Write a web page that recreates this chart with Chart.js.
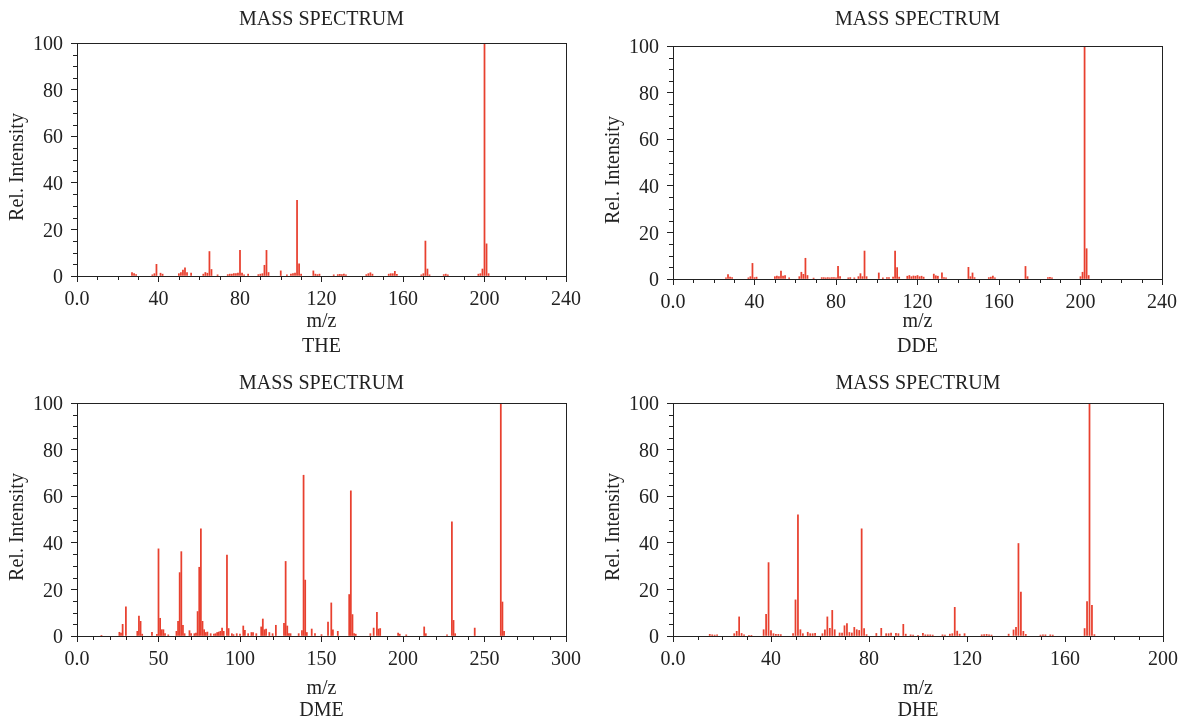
<!DOCTYPE html>
<html>
<head>
<meta charset="utf-8">
<script src="https://cdn.jsdelivr.net/npm/chart.js@4.4.1/dist/chart.umd.min.js"></script>
<style>
  html, body { margin: 0; padding: 0; background: #fff; overflow: hidden; }
  canvas { position: absolute; }
</style>
</head>
<body>
<canvas id="c1" width="594" height="361" style="left:0px;top:0px"></canvas>
<canvas id="c2" width="591" height="361" style="left:596px;top:0px"></canvas>
<canvas id="c3" width="594" height="362" style="left:0px;top:361px"></canvas>
<canvas id="c4" width="591" height="362" style="left:596px;top:361px"></canvas>
<script>
// spectrum THE
const theMz  = [27, 28, 29, 37, 38, 39, 41, 42, 50, 51, 52, 53, 54, 56, 62, 63, 64, 65, 66, 69, 74, 75, 76, 77, 78, 79, 80, 81, 82, 84, 89, 90, 91, 92, 93, 94, 100, 103, 105, 106, 107, 108, 109, 110, 116, 117, 118, 119, 126, 128, 129, 130, 131, 132, 142, 143, 144, 145, 153, 154, 155, 156, 157, 169, 170, 171, 172, 173, 180, 181, 182, 197, 198, 199, 200, 201, 202];
const theInt = [1.5, 1.0, 0.6, 0.5, 1.0, 5.0, 1.2, 0.8, 1.0, 1.5, 2.5, 3.5, 1.5, 1.2, 0.8, 1.5, 1.2, 10.5, 2.8, 0.5, 0.6, 0.8, 0.8, 1.0, 1.0, 1.2, 11.0, 1.2, 0.5, 0.8, 0.6, 0.8, 1.0, 4.6, 11.0, 1.5, 2.2, 0.5, 0.8, 1.0, 1.2, 32.5, 5.2, 0.8, 2.2, 0.8, 0.6, 0.8, 0.5, 0.6, 0.7, 0.6, 0.8, 0.5, 0.6, 1.0, 1.4, 0.8, 0.8, 1.0, 1.0, 2.0, 0.7, 0.5, 1.0, 15.0, 3.0, 0.5, 0.6, 0.8, 0.5, 0.8, 1.0, 3.0, 100, 13.8, 1.0];

// spectrum DDE
const ddeMz  = [26, 27, 28, 29, 37, 38, 39, 40, 41, 50, 51, 52, 53, 54, 55, 57, 62, 63, 64, 65, 66, 69, 73, 74, 75, 76, 77, 78, 79, 80, 81, 82, 86, 87, 89, 91, 92, 93, 94, 95, 101, 103, 105, 106, 108, 109, 110, 111, 115, 116, 117, 118, 119, 120, 121, 122, 123, 128, 129, 130, 132, 133, 134, 145, 146, 147, 148, 155, 156, 157, 158, 173, 174, 184, 185, 186, 200, 201, 202, 203, 204];
const ddeInt = [0.5, 1.9, 0.8, 0.6, 0.5, 1.0, 6.7, 0.6, 0.8, 1.0, 1.2, 1.0, 3.4, 1.2, 1.5, 0.5, 1.0, 2.9, 2.0, 8.9, 1.5, 0.4, 0.6, 0.6, 0.5, 0.6, 0.5, 0.6, 0.6, 0.5, 5.4, 1.0, 0.5, 0.6, 0.5, 1.0, 2.3, 1.0, 12.0, 1.0, 2.6, 0.5, 0.6, 0.6, 0.8, 12.0, 4.9, 0.8, 1.2, 1.5, 1.0, 1.3, 1.2, 1.5, 1.0, 1.2, 0.8, 2.1, 1.4, 1.2, 2.6, 0.6, 0.5, 5.0, 1.0, 2.6, 0.6, 0.6, 0.8, 1.3, 0.5, 5.4, 1.0, 0.6, 0.7, 0.5, 1.0, 2.9, 100, 13.0, 1.5];

// spectrum DME
const dmeMz  = [15, 26, 27, 28, 30, 37, 38, 39, 40, 46, 49, 50, 51, 52, 53, 54, 56, 61, 62, 63, 64, 65, 66, 69, 70, 72, 73, 74, 75, 76, 77, 78, 79, 80, 82, 84, 85, 86, 87, 88, 89, 90, 92, 93, 95, 96, 98, 100, 102, 103, 105, 107, 108, 110, 113, 114, 115, 116, 118, 120, 122, 127, 128, 129, 130, 131, 136, 138, 139, 140, 141, 144, 146, 150, 154, 156, 157, 160, 167, 168, 169, 170, 171, 180, 182, 184, 185, 186, 197, 198, 202, 213, 214, 227, 230, 231, 232, 244, 260, 261, 262];
const dmeInt = [0.3, 1.6, 1.3, 5.0, 12.5, 2.0, 8.5, 6.3, 0.8, 1.6, 0.7, 37.4, 7.6, 2.7, 2.7, 1.0, 0.5, 2.0, 6.3, 27.2, 36.2, 4.6, 1.0, 2.3, 1.0, 1.0, 1.3, 10.5, 29.5, 46.0, 6.3, 2.7, 1.5, 1.7, 1.0, 0.8, 1.0, 1.5, 1.7, 2.0, 3.4, 2.0, 34.7, 3.2, 1.0, 0.6, 1.0, 0.8, 4.3, 2.4, 1.0, 1.5, 1.5, 1.0, 3.9, 7.3, 2.7, 3.0, 1.5, 1.0, 4.6, 5.4, 32.0, 4.3, 1.0, 1.0, 1.0, 2.3, 69.0, 24.0, 1.5, 3.0, 1.0, 0.6, 6.0, 14.2, 2.6, 2.0, 17.8, 62.3, 9.2, 1.0, 0.8, 1.0, 3.4, 10.2, 3.0, 3.2, 1.3, 0.8, 0.5, 3.9, 1.0, 0.5, 49.0, 6.7, 1.0, 3.4, 100, 14.6, 2.0];

// spectrum DHE
const dheMz  = [15, 16, 17, 18, 25, 26, 27, 28, 29, 31, 32, 37, 38, 39, 40, 41, 42, 43, 44, 49, 50, 51, 52, 53, 55, 56, 57, 58, 61, 62, 63, 64, 65, 66, 68, 69, 70, 71, 72, 73, 74, 75, 76, 77, 78, 79, 83, 85, 87, 88, 89, 91, 92, 94, 95, 97, 98, 100, 102, 103, 104, 105, 106, 110, 111, 113, 114, 115, 116, 117, 119, 126, 127, 128, 129, 130, 137, 139, 140, 141, 142, 143, 144, 150, 151, 152, 154, 155, 168, 169, 170, 171, 172];
const dheInt = [0.7, 0.5, 0.4, 0.5, 1.0, 2.0, 8.2, 1.1, 0.5, 0.3, 0.3, 2.7, 9.3, 31.5, 2.3, 1.0, 0.7, 0.7, 0.6, 1.0, 15.5, 52.0, 2.7, 1.0, 1.6, 1.0, 1.0, 1.1, 1.0, 2.7, 8.2, 3.3, 11.0, 2.7, 1.3, 1.3, 4.4, 5.3, 1.5, 1.3, 3.7, 2.7, 2.4, 46.0, 3.2, 0.6, 1.1, 3.3, 1.0, 1.0, 1.2, 1.1, 1.0, 5.0, 0.8, 0.5, 0.4, 0.3, 1.1, 0.5, 0.5, 0.5, 0.4, 0.5, 0.4, 0.8, 1.0, 12.3, 2.1, 0.8, 1.0, 0.5, 0.6, 0.7, 0.5, 0.4, 0.8, 2.6, 3.7, 39.7, 18.8, 2.0, 0.7, 0.4, 0.5, 0.5, 0.5, 0.4, 3.2, 14.8, 100, 13.2, 0.6];

// axis ticks
const yTicks = [0, 20, 40, 60, 80, 100];
const names = ['THE', 'DDE', 'DME', 'DHE'];
const xMaxes = [240, 240, 300, 200];
const xMajors = [40, 40, 50, 40];

const SERIF = '"Liberation Serif", "Times New Roman", serif';
const INK = '#222';

// frame box + minor ticks
const frameAndMinor = {
    id: 'frameAndMinor',
    afterDraw(chart, args, opts) {
        const { ctx, chartArea: a, scales: { x, y } } = chart;
        ctx.save();
        ctx.strokeStyle = INK;
        ctx.lineWidth = 1;
        ctx.beginPath();
        for (let v = x.min; v <= x.max; v += opts.xMinor) {
            if (v % opts.xMajor === 0) continue;
            const px = Math.round(x.getPixelForValue(v)) + 0.5;
            ctx.moveTo(px, a.bottom);
            ctx.lineTo(px, a.bottom + 4);
        }
        for (let v = y.min; v <= y.max; v += opts.yMinor) {
            if (v % 20 === 0) continue;
            const py = Math.round(y.getPixelForValue(v)) + 0.5;
            ctx.moveTo(a.left - 4, py);
            ctx.lineTo(a.left, py);
        }
        ctx.stroke();
        ctx.strokeRect(Math.round(a.left) + 0.5, Math.round(a.top) + 0.5,
            Math.round(a.right - a.left), Math.round(a.bottom - a.top));
        ctx.restore();
    }
};

function makeChart(id, idx, mz, intens, lay) {
    const ctx = document.getElementById(id).getContext('2d');
    return new Chart(ctx, {
        type: 'bar',
        data: {
            datasets: [{
                data: mz.map((m, i) => ({ x: m, y: intens[i] })),
                backgroundColor: '#e8402f',
                borderWidth: 0,
                barThickness: 1.1,
                grouped: false
            }]
        },
        options: {
            responsive: false,
            animation: false,
            layout: { padding: { left: 0, right: lay.padRight, top: 0, bottom: 0 } },
            plugins: {
                legend: { display: false },
                tooltip: { enabled: false },
                title: {
                    display: true,
                    text: 'MASS SPECTRUM',
                    fullSize: false,
                    color: INK,
                    font: { family: SERIF, size: 20, weight: 'normal', lineHeight: 1.2 },
                    padding: lay.titlePad
                },
                frameAndMinor: { xMajor: xMajors[idx], xMinor: 10, yMinor: 5 }
            },
            scales: {
                x: {
                    type: 'linear',
                    min: 0,
                    max: xMaxes[idx],
                    offset: false,
                    grid: { offset: false, drawOnChartArea: false, tickLength: 6, tickColor: INK, tickWidth: 1 },
                    border: { color: INK, width: 1 },
                    ticks: {
                        stepSize: xMajors[idx],
                        autoSkip: false,
                        maxRotation: 0,
                        padding: 6,
                        color: INK,
                        font: { family: SERIF, size: 20 },
                        callback: (v) => v === 0 ? '0.0' : String(v)
                    },
                    title: {
                        display: true,
                        text: ['m/z', names[idx]],
                        color: INK,
                        font: { family: SERIF, size: 20, lineHeight: lay.xTitleLH },
                        padding: { top: 0, bottom: lay.xTitlePadBottom }
                    },
                    afterFit: (s) => { s.height = lay.axisHeight; }
                },
                y: {
                    min: 0,
                    max: 100,
                    grid: { drawOnChartArea: false, tickLength: 6, tickColor: INK, tickWidth: 1 },
                    border: { color: INK, width: 1 },
                    afterBuildTicks: (s) => { s.ticks = yTicks.map(v => ({ value: v })); },
                    ticks: {
                        padding: 8,
                        labelOffset: 2,
                        color: INK,
                        font: { family: SERIF, size: 20 },
                        callback: (v) => String(v)
                    },
                    title: {
                        display: true,
                        text: 'Rel. Intensity\u00a0\u00a0\u00a0',
                        color: INK,
                        font: { family: SERIF, size: 20, lineHeight: 1.2 },
                        padding: { top: 6, bottom: 0 }
                    },
                    afterFit: (s) => { s.width = 77; }
                }
            }
        },
        plugins: [frameAndMinor]
    });
}

makeChart('c1', 0, theMz, theInt, { padRight: 28, titlePad: { top: 8, bottom: 11 }, axisHeight: 85, xTitleLH: 1.25, xTitlePadBottom: 1.5 });
makeChart('c2', 1, ddeMz, ddeInt, { padRight: 25, titlePad: { top: 8, bottom: 14 }, axisHeight: 82, xTitleLH: 1.25, xTitlePadBottom: 1.5 });
makeChart('c3', 2, dmeMz, dmeInt, { padRight: 28, titlePad: { top: 11, bottom: 7 }, axisHeight: 87, xTitleLH: 1.1, xTitlePadBottom: 1 });
makeChart('c4', 3, dheMz, dheInt, { padRight: 24, titlePad: { top: 11, bottom: 7 }, axisHeight: 87, xTitleLH: 1.1, xTitlePadBottom: 1 });
</script>
</body>
</html>
